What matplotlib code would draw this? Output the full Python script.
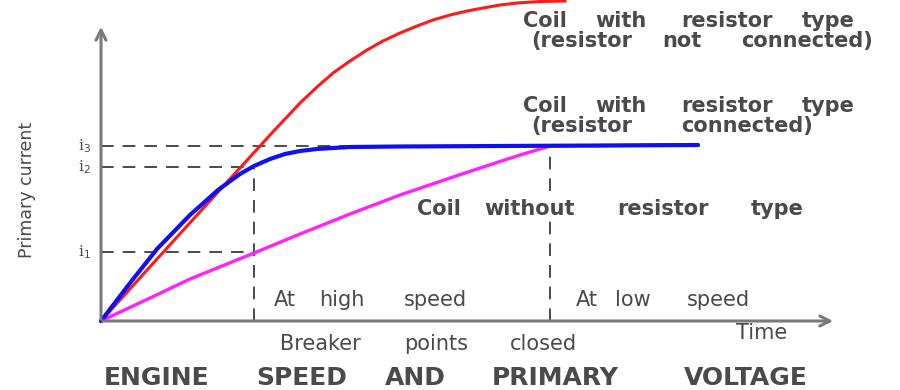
import matplotlib.pyplot as plt

# primary current against time (arbitrary units)
t_red = [0, 0.56, 1.17, 1.49, 1.69, 1.84, 1.99, 2.16, 2.32, 2.49, 2.66, 2.82,
         2.99, 3.16, 3.32, 3.49, 3.66, 3.82, 3.99, 4.16, 4.39, 4.64]
i_red = [0, 0.62, 1.29, 1.64, 1.86, 2.02, 2.18, 2.34, 2.48, 2.60, 2.71, 2.80,
         2.88, 2.95, 3.01, 3.06, 3.10, 3.13, 3.16, 3.18, 3.195, 3.20]

t_blue = [0, 0.29, 0.56, 0.89, 1.17, 1.39, 1.53, 1.69, 1.84, 1.99, 2.16, 2.32,
          2.49, 2.99, 3.99, 5.97]
i_blue = [0, 0.38, 0.72, 1.06, 1.31, 1.47, 1.55, 1.62, 1.67, 1.70, 1.72, 1.73,
          1.74, 1.745, 1.75, 1.76]

t_mag = [0, 0.49, 0.89, 1.53, 1.99, 2.49, 2.99, 3.49, 3.79, 4.19, 4.49, 5.97]
i_mag = [0, 0.23, 0.42, 0.68, 0.87, 1.07, 1.26, 1.43, 1.53, 1.66, 1.75, 1.76]

# reference levels and breaker times
level_labels = ["i$_3$", "i$_2$", "i$_1$"]
levels = [1.75, 1.54, 0.69]
t_high = 1.53
t_low = 4.49

AXIS = "#7a7a7a"
TXT = "#4a4a4a"
DASH = "#3c3c3c"

fig = plt.figure(figsize=(9, 3.9), dpi=100)
ax = fig.add_axes([0, 0, 1, 1])
ax.set_xlim(-1.01, 7.99)
ax.set_ylim(-0.69, 3.21)
ax.axis("off")

# axes drawn as arrows
arrow = dict(arrowstyle="->", color=AXIS, lw=2.2, mutation_scale=18)
ax.annotate("", xy=(0, 2.97), xytext=(0, -0.01), arrowprops=arrow)
ax.annotate("", xy=(7.35, 0), xytext=(-0.01, 0), arrowprops=arrow)

# dashed guide lines
dash = dict(color=DASH, lw=1.3, dashes=(7, 5))
ax.plot([0, t_low], [levels[0]] * 2, **dash)
ax.plot([0, t_high], [levels[1]] * 2, **dash)
ax.plot([0, t_high], [levels[2]] * 2, **dash)
ax.plot([t_high, t_high], [0, levels[1]], **dash)
ax.plot([t_low, t_low], [0, levels[0]], **dash)

for lab, lev in zip(level_labels, levels):
    ax.text(-0.1, lev, lab, ha="right", va="center", fontsize=11,
            color=TXT, family="DejaVu Serif")

# curves
ax.plot(t_red, i_red, color="#ff1a1a", lw=2.2, solid_joinstyle="round")
ax.plot(t_mag, i_mag, color="#ff22ff", lw=2.4, solid_joinstyle="round")
ax.plot(t_blue, i_blue, color="#1010ee", lw=3.0, solid_joinstyle="round",
        solid_capstyle="round")


# the original lettering is very wide, so each word sits at its own spot
def words(line, centers, y, **kw):
    for w, cx in zip(line.split(), centers):
        fig.text(cx / 900, 1 - y / 390, w, ha="center", va="center",
                 color=TXT, family="DejaVu Sans", **kw)


bold = dict(fontsize=15, weight="bold")
words("Coil with resistor type", [545, 621, 727, 828], 21, **bold)
words("(resistor not connected)", [582, 682, 807], 41, **bold)
words("Coil with resistor type", [545, 621, 727, 828], 106, **bold)
words("(resistor connected)", [582, 747], 126, **bold)
# white box so the dashed line stops at the lettering, as in the original
words("Coil without resistor type", [439, 530, 663, 777], 209,
      bbox=dict(facecolor="white", edgecolor="none", pad=1.5), **bold)

reg = dict(fontsize=15)
words("At high speed", [285, 342, 435], 300, **reg)
words("At low speed", [587, 633, 718], 300, **reg)
words("Time", [762], 333, **reg)
words("Breaker points closed", [320, 436, 543], 344, **reg)

words("ENGINE SPEED AND PRIMARY VOLTAGE", [157, 302, 415, 555, 746], 378,
      fontsize=18, weight="bold")

fig.text(27 / 900, 1 - 190 / 390, "Primary current", fontsize=12.5, rotation=90,
         ha="center", va="center", color=TXT,
         family=["Liberation Sans Narrow", "DejaVu Sans"])

fig.savefig("out.png", dpi=100)
